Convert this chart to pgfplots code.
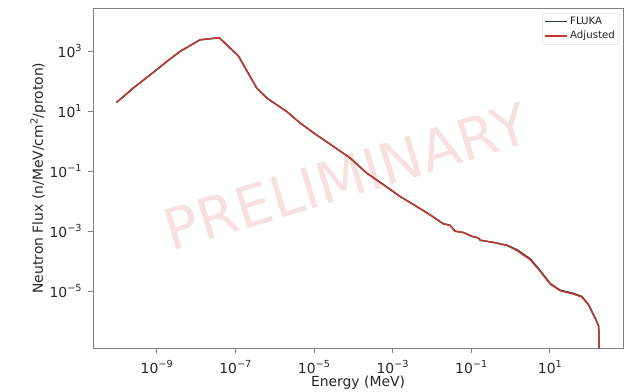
\documentclass[border=0pt]{standalone}
\usepackage{pgfplots}
\pgfplotsset{compat=1.18}
\usepackage{fontspec}
\setmainfont{DejaVu Sans}
\usetikzlibrary{calc}
\definecolor{fluka}{RGB}{44,62,80}
\definecolor{adj}{RGB}{192,57,43}
\definecolor{wm}{RGB}{246,224,224}
\definecolor{frame}{RGB}{128,128,128}
\newcommand{\tp}[1]{10\raisebox{0.8ex}{\fontsize{9.7}{10}\selectfont #1}}
\begin{document}
\begin{tikzpicture}
\begin{axis}[
  name=ax,
  scale only axis,
  width=530pt, height=340pt,
  xmode=log, ymode=log,
  log basis x=10, log basis y=10,
  xmin=2.4e-11, xmax=724,
  ymin=1.26e-7, ymax=26900,
  xtick={1e-9,1e-7,1e-5,1e-3,1e-1,1e1},
  xticklabels={\tp{−9},\tp{−7},\tp{−5},\tp{−3},\tp{−1},\tp{1}},
  ytick={1e-5,1e-3,1e-1,1e1,1e3},
  yticklabels={\tp{−5},\tp{−3},\tp{−1},\tp{1},\tp{3}},
  minor xtick={}, minor ytick={},
  tick align=outside,
  tick pos=left,
  major tick length=4.9pt,
  every tick/.style={frame, line width=0.8pt},
  axis line style={frame, line width=0.8pt},
  tick label style={font=\fontsize{13.9}{16}\selectfont, text=black!85},
  xticklabel style={yshift=-4pt},
  yticklabel style={xshift=-3pt},
  label style={font=\fontsize{13.9}{16}\selectfont, text=black!85},
  xlabel={Energy (MeV)},
  ylabel={Neutron Flux (n/MeV/cm\textsuperscript{2}/proton)},
  xlabel style={at={(rel axis cs:0.5,0)}, anchor=center, yshift=-34.7pt},
  ylabel style={at={(rel axis cs:0,0.5)}, anchor=center, yshift=55pt},
  legend style={at={(rel axis cs:1,1)}, anchor=north east, xshift=-4pt, yshift=-5pt,
    draw=black!15, rounded corners=2pt, font=\fontsize{10.2}{12}\selectfont,
    inner sep=2pt, row sep=1pt, text=black!85},
  legend cell align=left,
  legend image code/.code={\draw[#1, line width=1.5pt] (0pt,0pt) -- (22pt,0pt);},
]
\node[font=\fontsize{57}{60}\selectfont, text=wm, rotate=17, anchor=center] at (rel axis cs:0.4775,0.503) {PRELIMINARY};
\addplot[fluka, line width=1.5pt] coordinates {
(9.5e-11,19) (2.54e-10,58) (6.8e-10,158) (1.78e-9,436) (3.9e-9,955) (1.26e-8,2340) (3.9e-8,2750)
(1.2e-7,676) (3.5e-7,57.5) (6.3e-7,27) (2.04e-6,9.5) (4.5e-6,3.9) (1.17e-5,1.58) (3.1e-5,0.66)
(8.3e-5,0.27) (2.2e-4,0.085) (5.9e-4,0.0347) (1.55e-3,0.0141) (3.4e-3,7.6e-3) (8.9e-3,3.47e-3)
(0.0195,1.74e-3) (0.0288,1.55e-3) (0.039,9.8e-4) (0.063,8.9e-4) (0.105,6.6e-4) (0.151,5.9e-4)
(0.17,4.9e-4) (0.363,4.17e-4) (0.81,3.36e-4) (1.45,2.38e-4) (3.16,1.18e-4) (5.6,4.9e-5)
(10.2,1.78e-5) (18.2,1.06e-5) (39.8,8.3e-6) (64.6,6.6e-6) (95.5,3.6e-6) (141,1.28e-6)
(174,6.8e-7) (190,1e-8)
};
\addlegendentry{FLUKA}
\addplot[adj, line width=1.5pt] coordinates {
(9.5e-11,19) (2.54e-10,58) (6.8e-10,158) (1.78e-9,436) (3.9e-9,955) (1.26e-8,2340) (3.9e-8,2750)
(1.2e-7,676) (3.5e-7,57.5) (6.3e-7,27) (2.04e-6,9.5) (4.5e-6,3.9) (1.17e-5,1.58) (3.1e-5,0.66)
(8.3e-5,0.27) (2.2e-4,0.085) (5.9e-4,0.0347) (1.55e-3,0.0141) (3.4e-3,7.6e-3) (8.9e-3,3.47e-3)
(0.0195,1.74e-3) (0.0288,1.55e-3) (0.039,9.8e-4) (0.063,8.9e-4) (0.105,6.6e-4) (0.151,5.9e-4)
(0.17,4.9e-4) (0.363,4.17e-4) (0.81,3.3e-4) (1.45,2.24e-4) (3.16,1.1e-4) (5.6,4.6e-5)
(10.2,1.7e-5) (18.2,1.02e-5) (39.8,7.9e-6) (64.6,6.3e-6) (95.5,3.5e-6) (141,1.26e-6)
(174,6.8e-7) (190,1e-8)
};
\addlegendentry{Adjusted}
\end{axis}
\pgfresetboundingbox
\path[use as bounding box] ($(ax.south west)+(-93pt,-43pt)$) rectangle ($(ax.north east)+(8pt,8pt)$);
\end{tikzpicture}
\end{document}
